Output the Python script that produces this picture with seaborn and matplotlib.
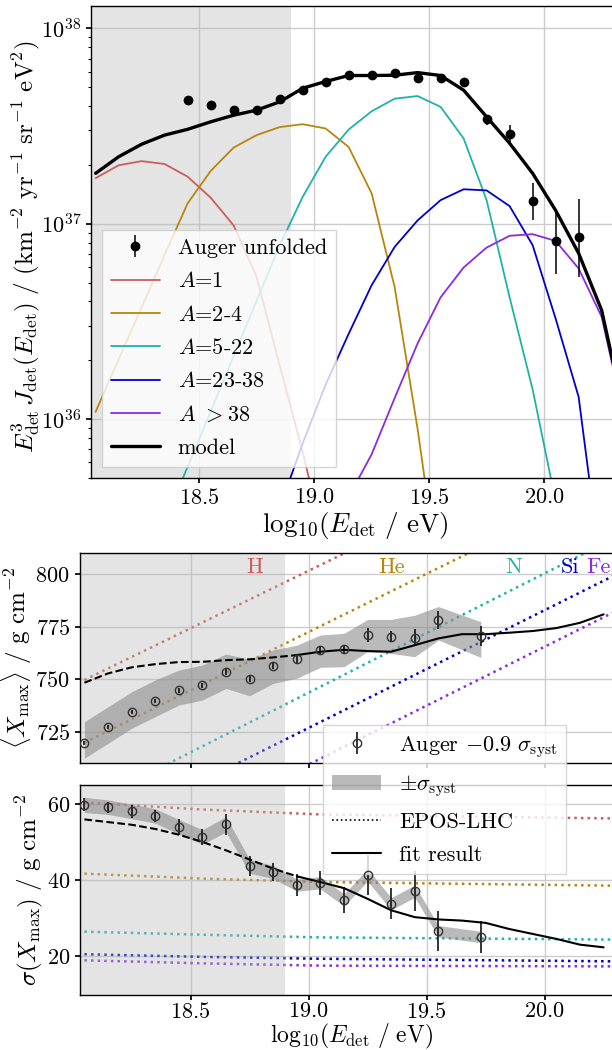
import matplotlib
matplotlib.use("Agg")
import matplotlib.pyplot as plt
import seaborn as sns

# ── 資料：能譜（上圖）────────────────────────────────────────────────────────
spec_lgE = [18.45, 18.55, 18.65, 18.75, 18.85, 18.95, 19.05, 19.15, 19.25,
            19.35, 19.45, 19.55, 19.65, 19.75, 19.85, 19.95, 20.05, 20.15]
spec_J = [4.30e37, 4.03e37, 3.81e37, 3.81e37, 4.34e37, 4.82e37, 5.34e37, 5.75e37, 5.75e37,
          5.93e37, 5.55e37, 5.55e37, 5.31e37, 3.43e37, 2.86e37, 1.30e37, 8.13e36, 8.55e36]
spec_err_lo = [0.05e37, 0.05e37, 0.05e37, 0.05e37, 0.06e37, 0.07e37, 0.08e37, 0.09e37, 0.10e37,
               0.12e37, 0.13e37, 0.15e37, 0.18e37, 0.24e37, 0.24e37, 0.26e37, 2.57e36, 3.24e36]
spec_err_hi = [0.05e37, 0.05e37, 0.05e37, 0.05e37, 0.06e37, 0.07e37, 0.08e37, 0.09e37, 0.10e37,
               0.12e37, 0.13e37, 0.15e37, 0.18e37, 0.16e37, 0.33e37, 0.32e37, 3.17e36, 4.75e36]

model_lgE = [18.05, 18.15, 18.25, 18.35, 18.45, 18.55, 18.65, 18.75, 18.85, 18.95, 19.05, 19.15,
             19.25, 19.35, 19.45, 19.55, 19.65, 19.75, 19.85, 19.95, 20.05, 20.15, 20.25, 20.35]
model_J = [1.81e37, 2.20e37, 2.55e37, 2.84e37, 3.04e37, 3.32e37, 3.59e37, 3.81e37, 4.20e37,
           4.93e37, 5.34e37, 5.73e37, 5.73e37, 5.75e37, 5.93e37, 5.73e37, 4.82e37, 3.52e37,
           2.58e37, 1.81e37, 1.17e37, 7.06e36, 3.61e36, 1.05e36]

a1_lgE = [18.05, 18.15, 18.25, 18.35, 18.45, 18.55, 18.65, 18.75, 18.85, 18.95, 19.05]
a1_J = [1.71e37, 1.99e37, 2.09e37, 2.02e37, 1.74e37, 1.36e37, 9.8e36, 5.35e36, 1.89e36, 6.8e35, 2.2e35]

a2_lgE = [18.05, 18.15, 18.25, 18.35, 18.45, 18.55, 18.65, 18.75, 18.85, 18.95, 19.05, 19.15,
          19.25, 19.35, 19.45, 19.55]
a2_J = [1.09e36, 2.02e36, 3.73e36, 6.92e36, 1.27e37, 1.86e37, 2.45e37, 2.84e37, 3.12e37, 3.23e37,
        3.07e37, 2.47e37, 1.43e37, 4.75e36, 8.9e35, 1.3e35]

a5_lgE = [18.35, 18.45, 18.55, 18.65, 18.75, 18.85, 18.95, 19.05, 19.15, 19.25, 19.35, 19.45,
          19.55, 19.65, 19.75, 19.85, 19.95, 20.05]
a5_J = [3.0e35, 5.7e35, 1.09e36, 2.1e36, 4.03e36, 7.73e36, 1.37e37, 2.2e37, 3.03e37, 3.76e37,
        4.36e37, 4.5e37, 3.96e37, 2.73e37, 1.32e37, 4.2e36, 1.42e36, 3.8e35]

a23_lgE = [18.85, 18.95, 19.05, 19.15, 19.25, 19.35, 19.45, 19.55, 19.65, 19.75, 19.85, 19.95,
           20.05, 20.15, 20.25]
a23_J = [3.5e35, 7.5e35, 1.5e36, 2.73e36, 4.84e36, 7.6e36, 1.04e37, 1.32e37, 1.5e37, 1.48e37,
         1.23e37, 7.77e36, 3.27e36, 1.3e36, 1.6e35]

a39_lgE = [19.15, 19.25, 19.35, 19.45, 19.55, 19.65, 19.75, 19.85, 19.95, 20.05, 20.15, 20.25, 20.35]
a39_J = [4.0e35, 6.6e35, 1.28e36, 2.44e36, 4.2e36, 5.97e36, 7.55e36, 8.67e36, 8.84e36, 8.16e36,
         5.9e36, 3.34e36, 1.0e36]

# ── 資料：Xmax 與 sigma(Xmax)（中、下圖）────────────────────────────────────
xm_lgE = [18.05, 18.15, 18.25, 18.35, 18.45, 18.55, 18.65, 18.75, 18.85, 18.95, 19.05, 19.15,
          19.25, 19.35, 19.45, 19.55, 19.73]
xm = [720.0, 727.6, 734.4, 739.7, 744.8, 747.3, 753.3, 750.0, 756.3, 759.5, 763.9, 764.5,
      771.0, 770.2, 769.7, 778.1, 770.5]
xm_err = [1.0, 1.0, 1.0, 1.0, 1.2, 1.2, 1.4, 1.4, 1.6, 2.0, 1.8, 1.8, 3.2, 2.6, 4.0, 4.2, 4.8]
xm_syst_hi = [729.9, 737.0, 744.1, 749.7, 754.4, 756.8, 762.0, 759.5, 763.9, 766.2, 771.0, 771.8,
              778.4, 778.4, 780.4, 784.5, 777.3]
xm_syst_lo = [712.6, 719.7, 726.8, 732.3, 737.8, 740.2, 745.7, 742.2, 748.1, 750.5, 755.7, 756.0,
              763.1, 762.3, 760.7, 768.6, 760.4]

sig = [59.7, 59.1, 58.0, 56.8, 54.0, 51.3, 54.6, 43.6, 42.1, 38.7, 39.3, 34.8, 41.3, 33.8, 37.1,
       26.6, 25.1]
sig_err = [1.7, 1.4, 1.6, 1.6, 2.1, 2.1, 2.8, 2.6, 2.4, 2.8, 3.1, 3.5, 5.2, 4.1, 5.2, 5.2, 4.2]
sig_syst_hi = [61.7, 61.0, 59.9, 58.7, 55.9, 53.2, 56.6, 45.4, 43.8, 40.3, 40.9, 36.4, 42.9, 35.4,
               38.7, 28.1, 26.6]
sig_syst_lo = [57.7, 57.2, 56.1, 54.9, 52.1, 49.4, 52.6, 41.8, 40.4, 37.1, 37.7, 33.2, 39.7, 32.2,
               35.5, 25.1, 23.6]

fit_lgE_lo = [18.05, 18.15, 18.25, 18.35, 18.45, 18.55, 18.65, 18.75, 18.85, 18.95]
fit_lgE_hi = [18.95, 19.05, 19.15, 19.25, 19.35, 19.45, 19.55, 19.65, 19.75, 19.85, 19.95,
              20.05, 20.15, 20.25]
fit_xm_lo = [748.4, 752.8, 755.7, 757.2, 758.2, 758.3, 759.1, 759.5, 760.4, 761.5]
fit_xm_hi = [761.5, 763.1, 764.0, 763.4, 763.1, 766.2, 769.4, 771.4, 771.4, 772.1, 772.9,
             774.3, 776.8, 780.8]
fit_sig_lo = [55.9, 55.2, 54.5, 53.4, 51.9, 50.0, 47.8, 45.4, 43.0, 41.0]
fit_sig_hi = [41.0, 39.5, 37.9, 35.1, 32.1, 30.3, 29.7, 29.4, 28.8, 27.2, 25.9, 24.6, 23.1, 22.4]

# EPOS-LHC 預測
epos_lgE = [18.05, 20.35]
epos_xm = {"H": [749.7, 875.0], "He": [720.0, 846.9], "N": [690.0, 820.0],
           "Si": [674.0, 802.3], "Fe": [656.6, 785.0]}
epos_sig_lgE = [18.05, 18.55, 19.05, 20.35]
epos_sig = {"H": [60.3, 58.5, 57.2, 56.1], "He": [41.7, 40.4, 39.5, 38.5],
            "N": [26.5, 25.7, 25.0, 24.4], "Si": [20.6, 19.9, 19.4, 18.7],
            "Fe": [19.0, 18.2, 17.6, 17.4]}
label_lgE = {"H": 18.77, "He": 19.35, "N": 19.87, "Si": 20.11, "Fe": 20.23}

COLORS = {"H": "#cd5c5c", "He": "#b8860b", "N": "#20b2aa", "Si": "#0000cd", "Fe": "#8a2be2"}
SHADE = "#b8b8b8"
BAND = "#8c8c8c"
XLABEL = r"${\rm log}_{10}(E_{\rm det}\ /\ {\rm eV})$"

sns.set_theme(style="whitegrid", rc={
    "axes.edgecolor": "black", "axes.linewidth": 1.0,
    "grid.color": "#cccccc", "grid.linewidth": 1.0,
    "xtick.bottom": True, "ytick.left": True,
    "xtick.major.size": 3.5, "ytick.major.size": 3.5,
    "ytick.minor.size": 2.0, "ytick.minor.width": 0.8,
    "xtick.color": "black", "ytick.color": "black",
    "xtick.labelsize": 16, "ytick.labelsize": 16,
    "axes.labelsize": 18, "legend.fontsize": 16,
    "text.color": "black", "axes.labelcolor": "black",
})
plt.rcParams["font.family"] = ["cmr10", "DejaVu Serif"]
plt.rcParams["mathtext.fontset"] = "cm"
plt.rcParams["axes.formatter.use_mathtext"] = True

fig = plt.figure(figsize=(6.12, 10.5), dpi=100)
XLIM = (18.03, 20.33)
XT = [18.5, 19.0, 19.5, 20.0]
LEG = dict(framealpha=0.8, fancybox=False, edgecolor="0.8", handlelength=2.2,
           handletextpad=0.8, labelspacing=0.6)

# ── 上圖：能譜 ───────────────────────────────────────────────────────────────
ax1 = fig.add_axes([0.1487, 0.5448, 0.8644, 0.4495])
ax1.set_yscale("log")
ax1.axvspan(17.9, 18.9, color=SHADE, alpha=0.38, lw=0, zorder=0.6)
comps = [(a1_lgE, a1_J, COLORS["H"], r"$A$=1"),
         (a2_lgE, a2_J, COLORS["He"], r"$A$=2-4"),
         (a5_lgE, a5_J, COLORS["N"], r"$A$=5-22"),
         (a23_lgE, a23_J, COLORS["Si"], r"$A$=23-38"),
         (a39_lgE, a39_J, COLORS["Fe"], r"$A$ $>$38")]
for xs, ys, c, lab in comps:
    sns.lineplot(x=xs, y=ys, ax=ax1, color=c, lw=1.3, label=lab, legend=False, zorder=2)
sns.lineplot(x=model_lgE, y=model_J, ax=ax1, color="black", lw=2.4, label="model",
             legend=False, zorder=3)
ax1.errorbar(spec_lgE, spec_J, yerr=[spec_err_lo, spec_err_hi], fmt="o", color="black",
             ms=6, elinewidth=1.1, capsize=0, label="Auger unfolded", zorder=4)
ax1.set_xlim(*XLIM)
ax1.set_ylim(5e35, 1.3e38)
ax1.set_xticks(XT)
ax1.set_xlabel(XLABEL, fontsize=19.5, labelpad=2)
ax1.set_ylabel(r"$E_{\rm det}^3\,J_{\rm det}(E_{\rm det})\ /\ ({\rm km}^{-2}\ {\rm yr}^{-1}\ {\rm sr}^{-1}\ {\rm eV}^2)$")
ax1.yaxis.set_label_coords(-0.092, 0.49)
h, l = ax1.get_legend_handles_labels()
order = [l.index("Auger unfolded")] + [l.index(c[3]) for c in comps] + [l.index("model")]
ax1.legend([h[i] for i in order], [l[i] for i in order], loc="lower left", **LEG)

# ── 中圖：<Xmax> ─────────────────────────────────────────────────────────────
ax2 = fig.add_axes([0.1302, 0.2736, 0.8869, 0.2])
for el, vals in epos_xm.items():
    sns.lineplot(x=epos_lgE, y=vals, ax=ax2, color=COLORS[el], lw=1.8, ls=":",
                 legend=False, zorder=2)
    ax2.text(label_lgE[el], 803, el, color=COLORS[el], fontsize=16, ha="center",
             va="center", zorder=6)
ax2.axvspan(17.9, 18.9, color=SHADE, alpha=0.38, lw=0, zorder=2.5)
ax2.fill_between(xm_lgE, xm_syst_lo, xm_syst_hi, color=BAND, alpha=0.6, lw=0, zorder=3)
sns.lineplot(x=fit_lgE_lo, y=fit_xm_lo, ax=ax2, color="black", lw=1.5, ls="--",
             legend=False, zorder=4)
sns.lineplot(x=fit_lgE_hi, y=fit_xm_hi, ax=ax2, color="black", lw=1.5,
             legend=False, zorder=4)
ax2.errorbar(xm_lgE, xm, yerr=xm_err, fmt="o", mfc="none", mec="#333333", ms=6,
             mew=1.0, ecolor="black", elinewidth=1.1, capsize=0, zorder=5)
ax2.set_xlim(*XLIM)
ax2.set_ylim(710.5, 810)
ax2.set_xticks(XT)
ax2.set_yticks([725, 750, 775, 800])
ax2.tick_params(axis="x", labelbottom=False)
ax2.set_ylabel(r"$\langle X_{\rm max}\rangle\ /\ {\rm g\ cm}^{-2}$")
ax2.yaxis.set_label_coords(-0.084, 0.5)

# ── 下圖：sigma(Xmax) ───────────────────────────────────────────────────────
ax3 = fig.add_axes([0.1302, 0.0527, 0.8869, 0.2])
for el, vals in epos_sig.items():
    sns.lineplot(x=epos_sig_lgE, y=vals, ax=ax3, color=COLORS[el], lw=1.8, ls=":",
                 legend=False, zorder=2)
ax3.axvspan(17.9, 18.9, color=SHADE, alpha=0.38, lw=0, zorder=2.5)
ax3.fill_between(xm_lgE, sig_syst_lo, sig_syst_hi, color=BAND, alpha=0.6, lw=0,
                 zorder=3, label=r"$\pm\sigma_{\rm syst}$")
sns.lineplot(x=fit_lgE_lo, y=fit_sig_lo, ax=ax3, color="black", lw=1.5, ls="--",
             legend=False, zorder=4)
sns.lineplot(x=fit_lgE_hi, y=fit_sig_hi, ax=ax3, color="black", lw=1.5,
             label="fit result", legend=False, zorder=4)
ax3.errorbar(xm_lgE, sig, yerr=sig_err, fmt="o", mfc="none", mec="#333333", ms=6,
             mew=1.0, ecolor="black", elinewidth=1.1, capsize=0, zorder=5,
             label=r"Auger $-0.9\ \sigma_{\rm syst}$")
ax3.plot([], [], color="black", ls=":", lw=1.2, label="EPOS-LHC")
ax3.set_xlim(*XLIM)
ax3.set_ylim(10, 65)
ax3.set_xticks(XT)
ax3.set_yticks([20, 40, 60])
ax3.tick_params(axis="x", pad=1.5)
ax3.set_xlabel(XLABEL, fontsize=17, labelpad=0)
ax3.set_ylabel(r"$\sigma(X_{\rm max})\ /\ {\rm g\ cm}^{-2}$")
ax3.yaxis.set_label_coords(-0.064, 0.5)
h, l = ax3.get_legend_handles_labels()
want = [r"Auger $-0.9\ \sigma_{\rm syst}$", r"$\pm\sigma_{\rm syst}$", "EPOS-LHC", "fit result"]
ax3.legend([h[l.index(w)] for w in want], want, loc="upper left",
           bbox_to_anchor=(0.449, 1.284), borderaxespad=0, **LEG)

fig.savefig("out.png", dpi=100)
